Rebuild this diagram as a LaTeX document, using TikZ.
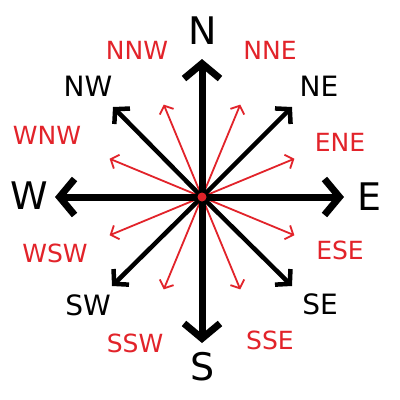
\documentclass[tikz,border=0pt]{standalone}
\usepackage{fontspec}
\setmainfont{DejaVu Sans}
\usetikzlibrary{arrows.meta,calc}
\definecolor{cred}{RGB}{226,35,42}
\tikzset{
  mainarr/.style={line width=7pt,-{Straight Barb[length=15pt,width=36pt]}},
  diagarr/.style={line width=4.5pt,-{Straight Barb[length=10pt,width=22pt]}},
  redarr/.style={cred,line width=1.8pt,-{Straight Barb[length=6.5pt,width=15pt]}},
  bigl/.style={font=\fontsize{38}{38}\selectfont,inner sep=0pt},
  midl/.style={font=\fontsize{28}{28}\selectfont,inner sep=0pt},
  redl/.style={font=\fontsize{25}{25}\selectfont,inner sep=0pt,text=cred},
}
\begin{document}
\begin{tikzpicture}[x=1pt,y=-1pt]
\useasboundingbox (0,0) rectangle (400,400);
\fill[white] (0,0) rectangle (400,400);
\coordinate (c) at (202,197);
% main tips
\coordinate (tN) at (202,59);
\coordinate (tS) at (202,343);
\coordinate (tE) at (344,197);
\coordinate (tW) at (55,197);
% diagonal tips
\coordinate (tNE) at (292,107);
\coordinate (tNW) at (113,107);
\coordinate (tSW) at (112,286);
\coordinate (tSE) at (292,286);
% red tips
\foreach \n/\a in {NNE/67.5,ENE/22.5,ESE/-22.5,SSE/-67.5,SSW/-112.5,WSW/-157.5,WNW/157.5,NNW/112.5}{
  \coordinate (t\n) at ($(c)+(-\a:100)$);
}
% labels
\node[bigl] (N) at (203,31) {N};
\node[bigl] (S) at (203,367) {S};
\node[bigl] (E) at (370,197) {E};
\node[bigl] (W) at (29,196) {W};
\node[midl] (NE) at (319,86) {NE};
\node[midl] (NW) at (88,86) {NW};
\node[midl] (SW) at (88,305) {SW};
\node[midl] (SE) at (320,304) {SE};
\node[redl] (NNE) at (270,50) {NNE};
\node[redl] (NNW) at (137,50) {NNW};
\node[redl] (ENE) at (340,142) {ENE};
\node[redl] (WNW) at (47,135) {WNW};
\node[redl] (WSW) at (55,253) {WSW};
\node[redl] (ESE) at (340,250) {ESE};
\node[redl] (SSW) at (135,343) {SSW};
\node[redl] (SSE) at (270,340) {SSE};
% arrows
\foreach \n in {NNE,ENE,ESE,SSE,SSW,WSW,WNW,NNW}{\draw[redarr] (c) -- (t\n);}
\foreach \n in {NE,NW,SW,SE}{\draw[diagarr] (c) -- (t\n);}
\foreach \n in {N,S,E,W}{\draw[mainarr] (c) -- (t\n);}
\fill[cred] (c) circle (4.5pt);
\end{tikzpicture}
\end{document}
